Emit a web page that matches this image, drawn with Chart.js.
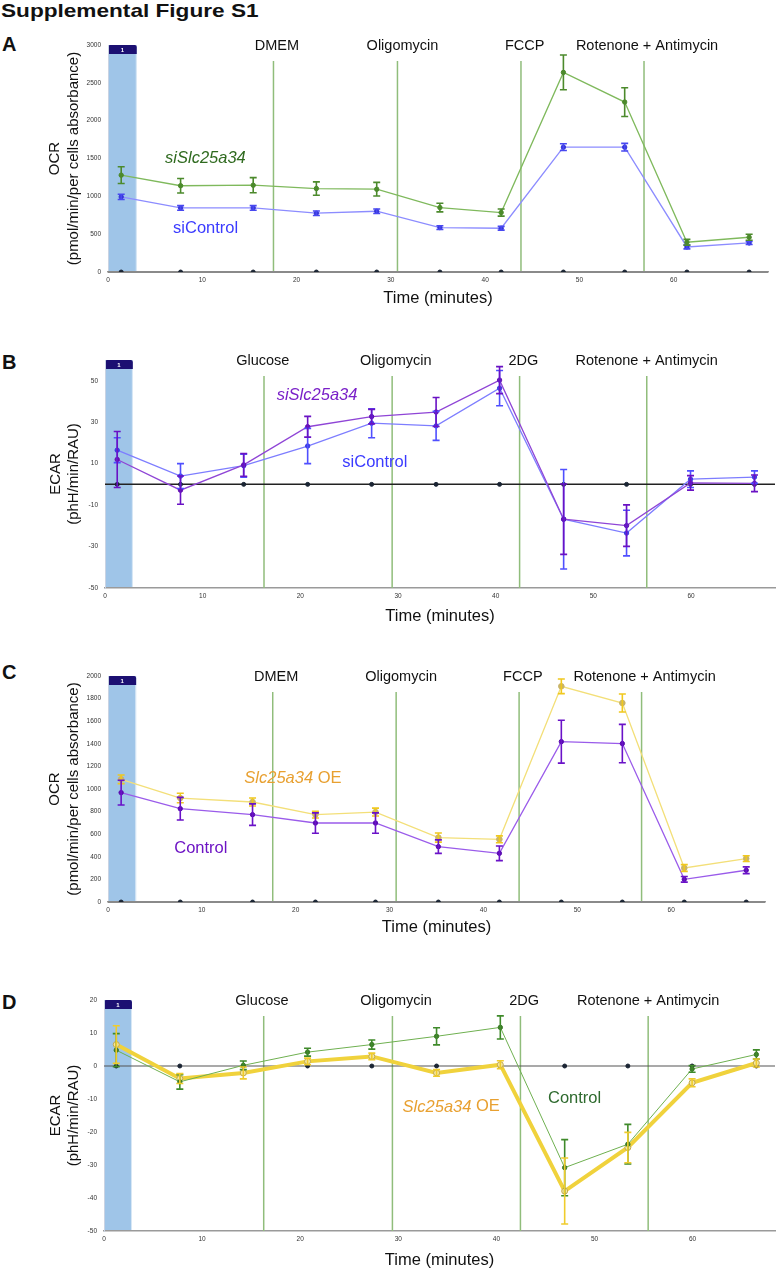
<!DOCTYPE html>
<html>
<head>
<meta charset="utf-8">
<script src="https://cdn.jsdelivr.net/npm/chart.js@4.4.1/dist/chart.umd.min.js"></script>
<style>
  body { margin: 0; background: #fff; width: 780px; height: 1270px; position: relative; overflow: hidden; font-family: "Liberation Sans", Arial, sans-serif; }
  .title { position: absolute; left: 1px; top: 1px; font-weight: bold; font-size: 19px; line-height: 19px; transform: scaleX(1.19); transform-origin: left top; white-space: nowrap; color: #111; }
  .letter { position: absolute; left: 2px; font-weight: bold; font-size: 20px; line-height: 20px; color: #111; }
  canvas { position: absolute; left: 0; }
</style>
</head>
<body>
<div class="title">Supplemental Figure S1</div>
<div class="letter" style="top:34px">A</div>
<div class="letter" style="top:352px">B</div>
<div class="letter" style="top:662px">C</div>
<div class="letter" style="top:992px">D</div>
<canvas id="chartA" width="780" height="290" style="top:28px"></canvas>
<canvas id="chartB" width="780" height="290" style="top:340px"></canvas>
<canvas id="chartC" width="780" height="290" style="top:655px"></canvas>
<canvas id="chartD" width="780" height="292" style="top:978px"></canvas>
<script>
// measurement times (minutes)
var timeAC = [1.4, 7.7, 15.4, 22.1, 28.5, 35.2, 41.7, 48.3, 54.8, 61.4, 68.0];
var timeBD = [1.25, 7.73, 14.2, 20.75, 27.3, 33.9, 40.4, 46.96, 53.4, 59.95, 66.5];
var baseline = [0, 0, 0, 0, 0, 0, 0, 0, 0, 0, 0];

// injections
var injectAC = [17.55, 30.7, 43.8, 56.85];
var injectBD = [16.28, 29.4, 42.45, 55.47];
var drugsOCR = ['DMEM', 'Oligomycin', 'FCCP', 'Rotenone + Antimycin'];
var drugsECAR = ['Glucose', 'Oligomycin', '2DG', 'Rotenone + Antimycin'];

// tick labels
var xTicks = [0, 10, 20, 30, 40, 50, 60];
var yTicksA = [0, 500, 1000, 1500, 2000, 2500, 3000];
var yTicksB = [-50, -30, -10, 10, 30, 50];
var yTicksC = [0, 200, 400, 600, 800, 1000, 1200, 1400, 1600, 1800, 2000];
var yTicksD = [-50, -40, -30, -20, -10, 0, 10, 20];

// A: OCR siSlc25a34 vs siControl
var siSlcOcrA = [1280, 1140, 1147, 1103, 1094, 852, 786, 2638, 2246, 393, 459];
var siSlcErrA = [110, 95, 100, 88, 90, 57, 47, 230, 190, 38, 40];
var siCtlOcrA = [993, 847, 847, 777, 803, 587, 578, 1650, 1650, 331, 384];
var siCtlErrA = [35, 30, 30, 30, 30, 25, 25, 45, 50, 25, 20];

// B: ECAR siSlc25a34 vs siControl
var siSlcEcarB = [12, -2.8, 9.4, 27.8, 32.7, 34.9, 50.3, -16.8, -19.9, 0.7, 0.5];
var siSlcErrB = [13.5, 6.8, 5.5, 5, 3.5, 7, 6.5, 17, 10, 3.5, 4];
var siCtlEcarB = [16.5, 4, 9, 18.5, 29.5, 28.2, 46.4, -16.8, -23.5, 2.5, 3.5];
var siCtlErrB = [6, 6, 5.5, 8.5, 7, 7, 8.5, 24, 11, 4, 3];

// C: OCR Slc25a34 OE vs Control
var oeOcrC = [1086, 920, 885, 773, 796, 570, 555, 1909, 1761, 301, 384];
var oeErrC = [38, 42, 35, 30, 35, 40, 30, 65, 80, 30, 25];
var ctlOcrC = [968, 826, 773, 699, 699, 490, 431, 1419, 1402, 201, 281];
var ctlErrC = [110, 100, 95, 90, 90, 60, 65, 190, 170, 25, 30];

// D: ECAR Slc25a34 OE vs Control
var ctlEcarD = [4.8, -4.8, 0.2, 4.2, 6.5, 9.0, 11.7, -30.8, -23.7, -0.9, 3.5];
var ctlErrD = [5, 2.2, 1.3, 1.2, 1.4, 2.6, 3.5, 8.5, 6, 1, 1.4];
var oeEcarD = [6.5, -3.8, -2.1, 1.4, 2.9, -2.1, 0.4, -37.9, -24.7, -5.1, 0.9];
var oeErrD = [5.7, 1.5, 1.8, 1, 1, 1, 1.2, 10, 4.6, 1.2, 1.2];

var FONT = '"Liberation Sans", Arial, sans-serif';

function pts(times, vals) {
  return times.map(function (t, i) { return { x: t, y: vals[i] }; });
}

function series(times, vals, errs, st) {
  return {
    data: pts(times, vals),
    errors: errs,
    errColor: st.err,
    borderColor: st.line,
    borderWidth: st.width || 1.3,
    pointRadius: st.r || 2.2,
    pointBackgroundColor: st.point,
    pointBorderColor: st.pointBorder || st.point,
    pointBorderWidth: 1,
    tension: 0,
    order: st.order || 1
  };
}

function zeroDots(times) {
  return {
    data: pts(times, baseline),
    showLine: false,
    pointRadius: 2,
    pointBackgroundColor: '#1a2433',
    pointBorderColor: '#1a2433',
    order: 5
  };
}

function decor(p) {
  return {
    id: 'decor',
    beforeDraw: function (chart) {
      var ctx = chart.ctx, a = chart.chartArea, x = chart.scales.x;
      var x0 = x.getPixelForValue(0), x1 = x.getPixelForValue(p.baseEnd);
      ctx.save();
      ctx.fillStyle = '#9fc5e8';
      ctx.fillRect(x0, a.top, x1 - x0, a.bottom - a.top);
      ctx.strokeStyle = 'rgba(255,255,255,0.6)';
      ctx.lineWidth = 1;
      ctx.beginPath();
      ctx.moveTo(x1 - 0.5, a.top); ctx.lineTo(x1 - 0.5, a.bottom);
      ctx.stroke();
      // run label band
      ctx.fillStyle = '#1c1072';
      ctx.beginPath();
      ctx.roundRect(x0, a.top, x1 - x0, 9, [2, 2, 0, 0]);
      ctx.fill();
      ctx.fillStyle = '#fff';
      ctx.font = 'bold 6px ' + FONT;
      ctx.textAlign = 'center';
      ctx.textBaseline = 'middle';
      ctx.fillText('1', (x0 + x1) / 2, a.top + 5);
      ctx.restore();
    },
    beforeDatasetsDraw: function (chart) {
      var ctx = chart.ctx, a = chart.chartArea, x = chart.scales.x, y = chart.scales.y;
      ctx.save();
      ctx.strokeStyle = '#90bd7b';
      ctx.lineWidth = 1.5;
      p.inject.forEach(function (t) {
        var px = x.getPixelForValue(t);
        ctx.beginPath();
        ctx.moveTo(px, a.top + 16);
        ctx.lineTo(px, a.bottom);
        ctx.stroke();
      });
      var zy = y.getPixelForValue(0);
      ctx.strokeStyle = p.zeroColor;
      ctx.lineWidth = p.zeroWidth;
      ctx.beginPath();
      ctx.moveTo(a.left, zy);
      ctx.lineTo(a.right, zy);
      ctx.stroke();
      ctx.restore();
    },
    afterDatasetsDraw: function (chart) {
      var ctx = chart.ctx, y = chart.scales.y;
      ctx.save();
      chart.data.datasets.forEach(function (ds, i) {
        if (!ds.errors) return;
        var meta = chart.getDatasetMeta(i);
        ctx.strokeStyle = ds.errColor;
        ctx.lineWidth = 1.6;
        meta.data.forEach(function (el, j) {
          var v = ds.data[j].y, e = ds.errors[j];
          var top = y.getPixelForValue(v + e), bot = y.getPixelForValue(v - e);
          ctx.beginPath();
          ctx.moveTo(el.x, top); ctx.lineTo(el.x, bot);
          ctx.moveTo(el.x - 3.5, top); ctx.lineTo(el.x + 3.5, top);
          ctx.moveTo(el.x - 3.5, bot); ctx.lineTo(el.x + 3.5, bot);
          ctx.stroke();
        });
      });
      ctx.restore();
    },
    afterDraw: function (chart) {
      var ctx = chart.ctx, a = chart.chartArea, x = chart.scales.x, y = chart.scales.y;
      ctx.save();
      ctx.fillStyle = '#111';
      ctx.font = '14.5px ' + FONT;
      ctx.textAlign = 'center';
      ctx.textBaseline = 'middle';
      p.drugs.forEach(function (d, i) {
        ctx.fillText(d, x.getPixelForValue(p.drugPos[i]), a.top + 1);
      });
      ctx.textAlign = 'left';
      p.labels.forEach(function (lb) {
        var px = x.getPixelForValue(lb.x), py = y.getPixelForValue(lb.y);
        ctx.fillStyle = lb.color;
        lb.parts.forEach(function (pt) {
          ctx.font = (pt.it ? 'italic ' : '') + '16.5px ' + FONT;
          ctx.fillText(pt.t, px, py);
          px += ctx.measureText(pt.t).width;
        });
      });
      ctx.restore();
    }
  };
}

function makeChart(id, p, datasets) {
  new Chart(document.getElementById(id), {
    type: 'line',
    data: { datasets: datasets },
    options: {
      responsive: false,
      animation: false,
      layout: { padding: { left: 0, top: p.padTop, right: p.padRight, bottom: 0 } },
      plugins: { legend: { display: false }, tooltip: { enabled: false } },
      scales: {
        x: {
          type: 'linear', min: 0, max: p.xMax,
          grid: { display: false, drawTicks: false },
          border: { color: '#9a9a9a', width: 1.5 },
          afterBuildTicks: function (s) { s.ticks = xTicks.map(function (v) { return { value: v }; }); },
          afterFit: function (s) { s.height = p.xAxisH; },
          ticks: { padding: 4, color: '#333', maxRotation: 0, font: { size: 6.5, family: FONT } },
          title: { display: true, text: 'Time (minutes)', color: '#111', font: { size: 16.5, family: FONT }, padding: { top: 0, bottom: p.xTitlePad } }
        },
        y: {
          min: p.yMin, max: p.yMax,
          grid: { display: false, drawTicks: false },
          border: { color: '#c9d3e3', width: 1 },
          afterBuildTicks: function (s) { s.ticks = p.yTicks.map(function (v) { return { value: v }; }); },
          afterFit: function (s) { s.width = p.plotLeft; },
          ticks: { padding: 7, color: '#333', font: { size: 6.5, family: FONT }, callback: function (v) { return String(v); } },
          title: { display: true, text: p.yTitle, color: '#111', font: { size: 15, family: FONT, lineHeight: p.yTitleLH }, padding: { top: p.yTitlePad, bottom: 0 } }
        }
      }
    },
    plugins: [decor(p)]
  });
}

var greenLbl = '#2f6a1f', blueLbl = '#3b3bff', purpleLbl = '#6d14c4', orangeLbl = '#e8a030';

makeChart('chartA', {
  padTop: 17, padRight: 12, plotLeft: 108, xAxisH: 46, xMax: 70, yMin: 0, yMax: 3000, yTicks: yTicksA,
  xTitlePad: 10.1, yTitle: ['OCR', '(pmol/min/per cells absorbance)'], yTitleLH: 1.27, yTitlePad: 45.5,
  baseEnd: 3.05, inject: injectAC, drugs: drugsOCR, drugPos: [17.92, 31.23, 44.2, 57.17],
  zeroColor: '#8a8a8a', zeroWidth: 2,
  labels: [
    { x: 6.05, y: 1505, color: greenLbl, parts: [{ t: 'siSlc25a34', it: true }] },
    { x: 6.9, y: 578, color: blueLbl, parts: [{ t: 'siControl', it: false }] }
  ]
}, [
  zeroDots(timeAC),
  series(timeAC, siCtlOcrA, siCtlErrA, { line: '#8c8cff', point: '#3535d8', err: '#4848f0', order: 2 }),
  series(timeAC, siSlcOcrA, siSlcErrA, { line: '#7fb95c', point: '#4c8a2c', err: '#4c8a2c', order: 1 })
]);

makeChart('chartB', {
  padTop: 20, padRight: 5, plotLeft: 105, xAxisH: 42, xMax: 68.6, yMin: -50, yMax: 60, yTicks: yTicksB,
  xTitlePad: 4.1, yTitle: ['ECAR', '(phH/min/RAU)'], yTitleLH: 1.2, yTitlePad: 46.5,
  baseEnd: 2.85, inject: injectBD, drugs: drugsECAR, drugPos: [16.16, 29.77, 42.83, 55.46],
  zeroColor: '#222', zeroWidth: 1.5,
  labels: [
    { x: 17.58, y: 42.7, color: '#7a20c8', parts: [{ t: 'siSlc25a34', it: true }] },
    { x: 24.3, y: 10.5, color: blueLbl, parts: [{ t: 'siControl', it: false }] }
  ]
}, [
  zeroDots(timeBD),
  series(timeBD, siCtlEcarB, siCtlErrB, { line: '#7d7dff', point: '#3b3be0', err: '#4f4fff', order: 2 }),
  series(timeBD, siSlcEcarB, siSlcErrB, { line: '#8f45d6', point: '#6410b0', err: '#6a12c4', order: 1 })
]);

makeChart('chartC', {
  padTop: 21, padRight: 15, plotLeft: 108, xAxisH: 43, xMax: 70, yMin: 0, yMax: 2000, yTicks: yTicksC,
  xTitlePad: 8.1, yTitle: ['OCR', '(pmol/min/per cells absorbance)'], yTitleLH: 1.27, yTitlePad: 45.5,
  baseEnd: 3.0, inject: injectAC, drugs: drugsOCR, drugPos: [17.92, 31.23, 44.2, 57.17],
  zeroColor: '#8a8a8a', zeroWidth: 2,
  labels: [
    { x: 14.52, y: 1092, color: orangeLbl, parts: [{ t: 'Slc25a34', it: true }, { t: ' OE', it: false }] },
    { x: 7.06, y: 472, color: purpleLbl, parts: [{ t: 'Control', it: false }] }
  ]
}, [
  zeroDots(timeAC),
  series(timeAC, oeOcrC, oeErrC, { line: '#f3df78', point: '#c9b468', err: '#f0c81e', r: 2.8, order: 2 }),
  series(timeAC, ctlOcrC, ctlErrC, { line: '#9a5bea', point: '#5a0cb0', err: '#6a12c8', order: 1 })
]);

makeChart('chartD', {
  padTop: 22, padRight: 2, plotLeft: 104, xAxisH: 39, xMax: 68.4, yMin: -50, yMax: 20, yTicks: yTicksD,
  xTitlePad: 0.1, yTitle: ['ECAR', '(phH/min/RAU)'], yTitleLH: 1.2, yTitlePad: 46.5,
  baseEnd: 2.85, inject: injectBD, drugs: drugsECAR, drugPos: [16.1, 29.77, 42.83, 55.46],
  zeroColor: '#555', zeroWidth: 1.2,
  labels: [
    { x: 30.44, y: -12.4, color: orangeLbl, parts: [{ t: 'Slc25a34', it: true }, { t: ' OE', it: false }] },
    { x: 45.26, y: -9.9, color: '#2e6a2e', parts: [{ t: 'Control', it: false }] }
  ]
}, [
  zeroDots(timeBD),
  series(timeBD, ctlEcarD, ctlErrD, { line: '#6fb050', point: '#3c7a28', err: '#3f8a2a', width: 1, order: 1 }),
  series(timeBD, oeEcarD, oeErrD, { line: '#f0d23c', point: '#f5e7a0', pointBorder: '#c0a850', err: '#f0cc2c', width: 4, r: 3, order: 2 })
]);
</script>
</body>
</html>
